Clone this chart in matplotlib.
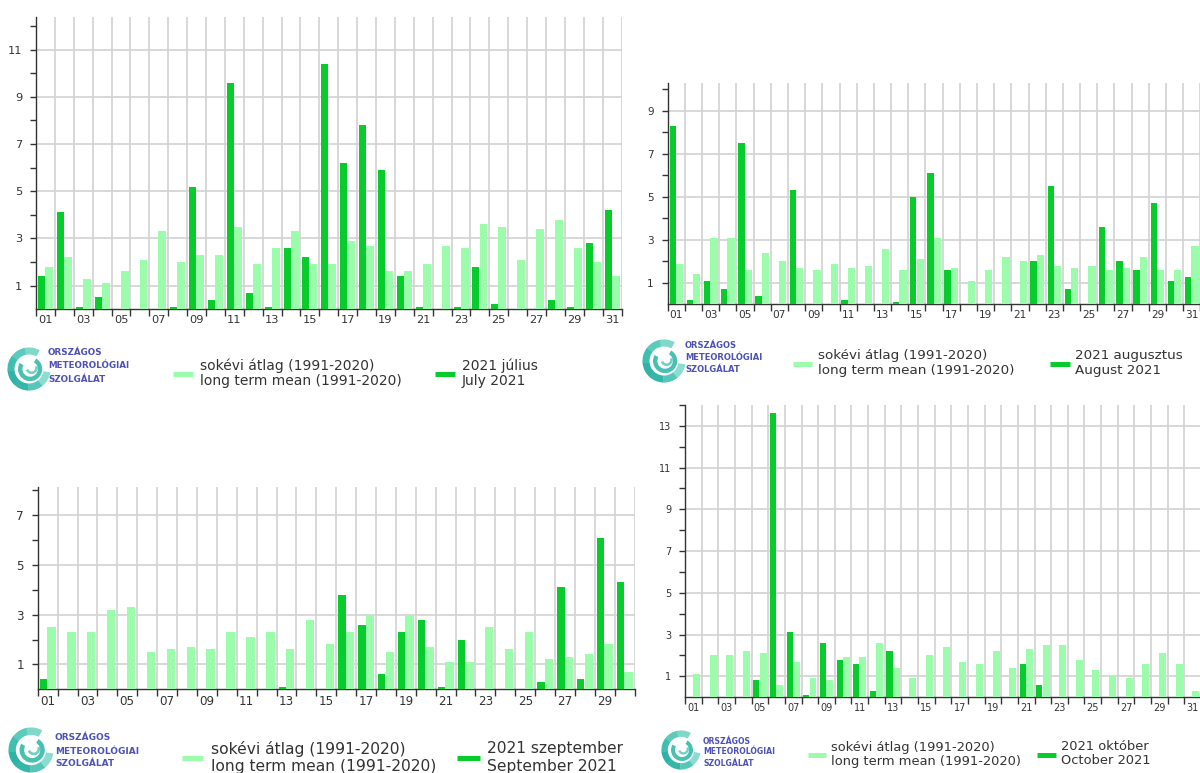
import matplotlib
matplotlib.use('Agg')
import matplotlib.pyplot as plt
from matplotlib.patches import Wedge
from matplotlib.lines import Line2D
import numpy as np

W, H = 1200, 773

# ---------------- data ----------------
jul_2021 = [1.4, 4.1, 0.1, 0.5, 0, 0, 0, 0.1, 5.2, 0.4, 9.6, 0.7, 0.1, 2.6, 2.2, 10.4,
            6.2, 7.8, 5.9, 1.4, 0.1, 0, 0.1, 1.8, 0.2, 0, 0, 0.4, 0.1, 2.8, 4.2]
jul_mean = [1.8, 2.2, 1.3, 1.1, 1.6, 2.1, 3.3, 2.0, 2.3, 2.3, 3.5, 1.9, 2.6, 3.3, 1.9, 1.9,
            2.9, 2.7, 1.6, 1.6, 1.9, 2.7, 2.6, 3.6, 3.5, 2.1, 3.4, 3.8, 2.6, 2.0, 1.4]

aug_2021 = [8.3, 0.2, 1.1, 0.7, 7.5, 0.4, 0, 5.3, 0, 0, 0.2, 0, 0, 0.1, 5.0, 6.1,
            1.6, 0, 0, 0, 0, 2.0, 5.5, 0.7, 0, 3.6, 2.0, 1.6, 4.7, 1.1, 1.3]
aug_mean = [1.9, 1.4, 3.1, 3.1, 1.6, 2.4, 2.0, 1.7, 1.6, 1.9, 1.7, 1.8, 2.6, 1.6, 2.1, 3.1,
            1.7, 1.1, 1.6, 2.2, 2.0, 2.3, 1.8, 1.7, 1.8, 1.6, 1.7, 2.2, 1.6, 1.6, 2.7]

sep_2021 = [0.4, 0, 0, 0, 0, 0, 0, 0, 0, 0, 0, 0, 0.1, 0, 0, 3.8,
            2.6, 0.6, 2.3, 2.8, 0.1, 2.0, 0, 0, 0, 0.3, 4.1, 0.4, 6.1, 4.3]
sep_mean = [2.5, 2.3, 2.3, 3.2, 3.3, 1.5, 1.6, 1.7, 1.6, 2.3, 2.1, 2.3, 1.6, 2.8, 1.8, 2.3,
            3.0, 1.5, 3.0, 1.7, 1.1, 1.1, 2.5, 1.6, 2.3, 1.2, 1.3, 1.4, 1.8, 0.7]

oct_2021 = [0, 0, 0, 0, 0.8, 13.6, 3.1, 0.1, 2.6, 1.8, 1.6, 0.3, 2.2, 0, 0, 0,
            0, 0, 0, 0, 1.6, 0.6, 0, 0, 0, 0, 0, 0, 0, 0, 0]
oct_mean = [1.1, 2.0, 2.0, 2.2, 2.1, 0.6, 1.7, 0.9, 0.8, 1.9, 1.9, 2.6, 1.4, 0.9, 2.0, 2.4,
            1.7, 1.6, 2.2, 1.4, 2.3, 2.5, 2.5, 1.8, 1.3, 1.0, 0.9, 1.6, 2.1, 1.6, 0.3]

mean_label = ['sokévi átlag (1991-2020)', 'long term mean (1991-2020)']
month_labels = {
    'jul': ['2021 július', 'July 2021'],
    'aug': ['2021 augusztus', 'August 2021'],
    'sep': ['2021 szeptember', 'September 2021'],
    'oct': ['2021 október', 'October 2021'],
}
logo_lines = ['ORSZÁGOS', 'METEOROLÓGIAI', 'SZOLGÁLAT']

DARK = '#08cc2c'
LIGHT = '#9bfcab'
GRID = '#d2d2d2'
TXT = '#333333'
LOGO_TXT = '#4d52b4'

fig = plt.figure(figsize=(12, 7.73), dpi=100)


def fx(x):
    return x / W


def fy(y):
    return 1 - y / H


def panel(box, v2021, vmean, ymax, fs):
    l, t, r, b = box
    ax = fig.add_axes([fx(l), fy(b), (r - l) / W, (b - t) / H])
    n = len(v2021)
    d = np.arange(1, n + 1)
    ax.set_axisbelow(True)
    ax.bar(d - 0.21, v2021, width=0.37, color=DARK, zorder=3)
    ax.bar(d + 0.19, vmean, width=0.42, color=LIGHT, zorder=3)
    ax.set_xlim(0.5, n + 0.5)
    ax.set_ylim(0, ymax)
    ax.set_xticks(np.arange(0.5, n + 1, 1))
    ax.set_xticklabels([])
    ax.set_xticks(d[::2], minor=True)
    ax.set_xticklabels([f'{x:02d}' for x in d[::2]], minor=True)
    ymaxi = int(ymax)
    ax.set_yticks(np.arange(1, ymaxi + 1, 2))
    ax.set_yticks(np.arange(2, ymaxi + 1, 2), minor=True)
    ax.grid(True, which='major', color=GRID, lw=1.2, zorder=0)
    ax.tick_params(axis='x', which='minor', length=0, labelsize=fs, labelcolor=TXT, pad=4)
    ax.tick_params(axis='x', which='major', length=5, color=TXT, width=1)
    ax.tick_params(axis='y', which='both', length=4, labelsize=fs, labelcolor=TXT,
                   color=TXT, width=1, pad=6)
    for s in ('top', 'right'):
        ax.spines[s].set_visible(False)
    for s in ('left', 'bottom'):
        ax.spines[s].set_color(TXT)
        ax.spines[s].set_linewidth(1)
    return ax


def logo(cx, cy, r, tx, tys, fs):
    lax = fig.add_axes([fx(cx - r), fy(cy + r), 2 * r / W, 2 * r / H])
    lax.set_xlim(-1, 1)
    lax.set_ylim(-1, 1)
    lax.axis('off')
    cols = ['#7fd8c8', '#5ccbbb', '#3fbfb0', '#2fb3a6', '#34b7a8', '#55c7b8', '#8addd0']
    n = len(cols)
    a0, a1 = 60, 350
    step = (a1 - a0) / n
    for i, c in enumerate(cols):
        lax.add_patch(Wedge((0, 0), 0.98, a0 + i * step, a0 + (i + 1) * step + 1,
                            width=0.32, color=c, lw=0))
    lax.add_patch(Wedge((0.05, 0.0), 0.55, 150, 420, width=0.2, color='#49c1b2', lw=0))
    lax.add_patch(Wedge((0.12, 0.05), 0.28, 200, 380, width=0.12, color='#6fd2c4', lw=0))
    for txt, y in zip(logo_lines, tys):
        fig.text(fx(tx), fy(y), txt, fontsize=fs, fontweight='bold', color=LOGO_TXT,
                 va='center', ha='left')


def legend(lx1, lx2, ly, ltx, dx1, dx2, dtx, y1, y2, fs, month):
    for (a, b_, c) in ((lx1, lx2, LIGHT), (dx1, dx2, DARK)):
        fig.add_artist(Line2D([fx(a), fx(b_)], [fy(ly), fy(ly)], transform=fig.transFigure,
                              color=c, lw=3.6, solid_capstyle='butt'))
    for txt, y in zip(mean_label, (y1, y2)):
        fig.text(fx(ltx), fy(y), txt, fontsize=fs, color=TXT, va='center', ha='left')
    for txt, y in zip(month_labels[month], (y1, y2)):
        fig.text(fx(dtx), fy(y), txt, fontsize=fs, color=TXT, va='center', ha='left')


# July
panel((36, 16.7, 621.6, 309.2), jul_2021, jul_mean, 12.4, 8.2)
logo(29, 369, 22, 48, (352, 366, 380), 6.3)
legend(173, 193, 374, 200, 435, 455, 462, 366, 381, 10, 'jul')

# August
panel((667.7, 82.7, 1200.4, 304.5), aug_2021, aug_mean, 10.3, 7.6)
logo(664, 361, 22, 685, (346, 358, 370), 6.0)
legend(793, 812, 364, 818, 1050, 1070, 1075, 356, 371, 9.7, 'aug')

# September
panel((37.7, 487, 634.7, 689.2), sep_2021, sep_mean, 8.14, 8.6)
logo(31, 750, 23, 55, (738, 751, 764), 6.5)
legend(182, 203, 758, 211, 457, 480, 487, 749, 767, 11.2, 'sep')

# October
panel((685, 405, 1201.0, 697.1), oct_2021, oct_mean, 14.0, 7.0)
logo(681, 750, 20, 703, (741, 752, 763), 5.6)
legend(808, 826, 755, 831, 1037, 1056, 1061, 747, 761, 9.4, 'oct')

fig.savefig('out.png', dpi=100)
